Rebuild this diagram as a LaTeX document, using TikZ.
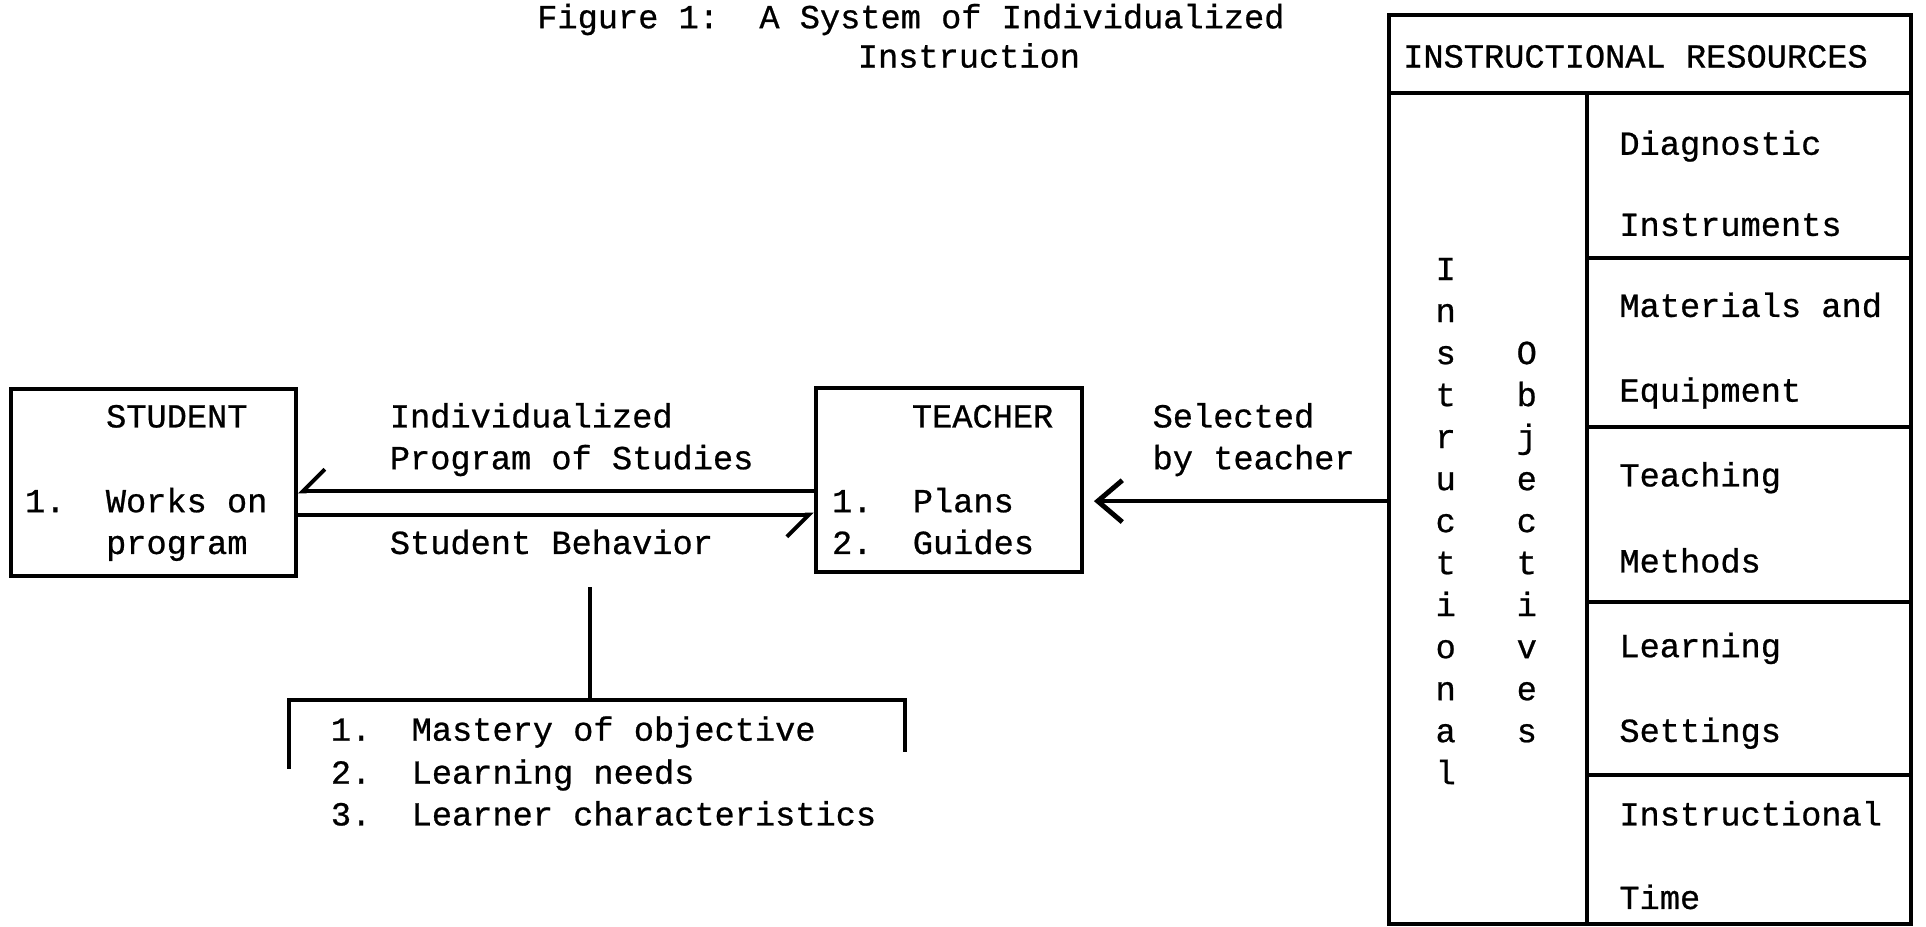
\documentclass[tikz,border=0pt]{standalone}
\usepackage{fontspec}
\newfontfamily\tw[FakeBold=0.7]{Liberation Mono}
\usetikzlibrary{arrows.meta,fit}
\begin{document}
\begin{tikzpicture}[x=0.5pt,y=-0.5pt,
  lbl/.style={font=\tw\fontsize{13.7pt}{16pt}\selectfont, inner sep=0pt, anchor=base west},
  ltr/.style={font=\tw\fontsize{13.7pt}{16pt}\selectfont, inner sep=0pt, anchor=base},
  frame/.style={draw, line width=1.6pt, inner sep=0pt},
  wire/.style={line width=1.6pt},
  harp/.style={wire, -{Straight Barb[harpoon,swap,length=9pt,width=18pt,line width=1.6pt]}},
  pick/.style={wire, -{Straight Barb[length=10pt,width=17pt,line width=2pt]}, shorten >=4pt}]
\fill[white] (0,0) rectangle (1568,754);
\useasboundingbox (0,0) rectangle (1568,754);

% title
\node[lbl] (title1) at (437,23) {Figure 1:~~A System of Individualized};
\node[lbl] (title2) at (698,55) {Instruction};

% student
\node[frame, fit={(9,317) (241,469)}] (student) {};
\node[lbl] (stuhead) at (86,348) {STUDENT};
\node[lbl] (stu1) at (20,417) {1.~~Works on};
\node[lbl] (stu1b) at (86,451) {program};

% teacher
\node[frame, fit={(664,316) (881,466)}] (teacher) {};
\node[lbl] (teahead) at (742,348) {TEACHER};
\node[lbl] (tea1) at (677,417) {1.~~Plans};
\node[lbl] (tea2) at (677,451) {2.~~Guides};

% labels between the boxes
\node[lbl] (prog1) at (317,348) {Individualized};
\node[lbl] (prog2) at (317,382) {Program of Studies};
\node[lbl] (behav) at (317,451) {Student Behavior};
\node[lbl] (sel1) at (938,348) {Selected};
\node[lbl] (sel2) at (938,382) {by teacher};

% resources table
\node[frame, fit={(1131,12) (1556,752)}] (res) {};
\node[frame, fit={(1131,12) (1556,76)}] (hdr) {};
\node[frame, fit={(1131,76) (1292,752)}] (objcol) {};
\node[frame, fit={(1292,76) (1556,210)}] (r1) {};
\node[frame, fit={(1292,210) (1556,348)}] (r2) {};
\node[frame, fit={(1292,348) (1556,490)}] (r3) {};
\node[frame, fit={(1292,490) (1556,631)}] (r4) {};
\node[frame, fit={(1292,631) (1556,752)}] (r5) {};
\node[lbl] (hdrtxt) at (1142,55) {INSTRUCTIONAL RESOURCES};
\node[lbl] (r1a) at (1318,126) {Diagnostic};
\node[lbl] (r1b) at (1318,192) {Instruments};
\node[lbl] (r2a) at (1318,258) {Materials and};
\node[lbl] (r2b) at (1318,327) {Equipment};
\node[lbl] (r3a) at (1318,396) {Teaching};
\node[lbl] (r3b) at (1318,466) {Methods};
\node[lbl] (r4a) at (1318,535) {Learning};
\node[lbl] (r4b) at (1318,604) {Settings};
\node[lbl] (r5a) at (1318,672) {Instructional};
\node[lbl] (r5b) at (1318,740) {Time};
\foreach \ch [count=\i from 0] in {I,n,s,t,r,u,c,t,i,o,n,a,l}
  \node[ltr] (ins\i) at (1177,{228+\i*34.2}) {\ch};
\foreach \ch [count=\i from 2] in {O,b,j,e,c,t,i,v,e,s}
  \node[ltr] (obj\i) at (1243,{228+\i*34.2}) {\ch};

% connectors
\coordinate (yup) at (0,400);
\coordinate (ylo) at (0,419);
\coordinate (ysel) at (0,408);
\draw[harp] (teacher.west |- yup) -- (student.east |- yup);
\draw[harp] (student.east |- ylo) -- (teacher.west |- ylo);
\draw[pick] (res.west |- ysel) -- (teacher.east |- ysel);

% feedback list under the student behaviour line
\coordinate (stem) at (480,478);
\coordinate (brk) at (480,570);
\coordinate (brkl) at (235,570);
\coordinate (brkr) at (737,570);
\draw[wire] (stem) -- (brk);
\draw[wire] ([yshift=-28pt]brkl) -- (brkl) -- (brkr) -- ([yshift=-21pt]brkr);
\node[lbl] (fb1) at (269,603) {1.~~Mastery of objective};
\node[lbl] (fb2) at (269,638) {2.~~Learning needs};
\node[lbl] (fb3) at (269,672) {3.~~Learner characteristics};
\end{tikzpicture}
\end{document}
